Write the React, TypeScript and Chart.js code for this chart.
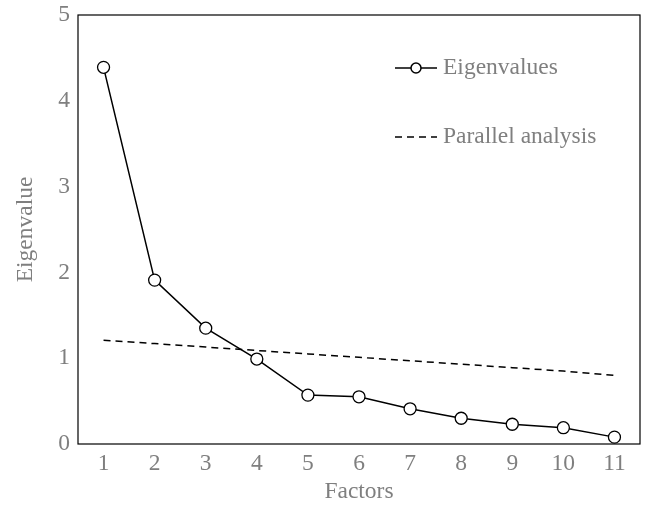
import React, { useEffect, useRef } from "react";
import { Chart, registerables } from "chart.js";

Chart.register(...registerables);

const factors = ["1", "2", "3", "4", "5", "6", "7", "8", "9", "10", "11"];
const eigenvalues = [4.39, 1.91, 1.35, 0.99, 0.57, 0.55, 0.41, 0.30, 0.23, 0.19, 0.08];
const parallel = [1.21, 1.17, 1.13, 1.09, 1.05, 1.01, 0.97, 0.93, 0.89, 0.85, 0.80];
const seriesLabels = ["Eigenvalues", "Parallel analysis"];
const yTitle = "Eigenvalue";
const xTitle = "Factors";

const FONT = "'Liberation Serif', 'DejaVu Serif', serif";
const GRAY = "#7f7f7f";
const FS = 23.5;

const frameAndLegend = {
  id: "frameAndLegend",
  afterDraw(chart: any) {
    const { ctx, chartArea } = chart;
    ctx.save();
    ctx.strokeStyle = "#000";
    ctx.lineWidth = 1.2;
    ctx.strokeRect(chartArea.left, chartArea.top, chartArea.right - chartArea.left, chartArea.bottom - chartArea.top);

    // legend
    const lx = 395;
    const ly1 = 68;
    const ly2 = 137;
    ctx.strokeStyle = "#000";
    ctx.lineWidth = 1.5;
    ctx.beginPath();
    ctx.moveTo(lx, ly1);
    ctx.lineTo(lx + 42, ly1);
    ctx.stroke();
    ctx.beginPath();
    ctx.fillStyle = "#fff";
    ctx.arc(lx + 21, ly1, 5, 0, Math.PI * 2);
    ctx.fill();
    ctx.stroke();
    ctx.setLineDash([7, 5]);
    ctx.beginPath();
    ctx.moveTo(lx, ly2);
    ctx.lineTo(lx + 42, ly2);
    ctx.stroke();
    ctx.setLineDash([]);
    ctx.fillStyle = GRAY;
    ctx.font = `${FS}px ${FONT}`;
    ctx.textBaseline = "middle";
    ctx.textAlign = "left";
    ctx.fillText(chart.data.datasets[0].label, lx + 48, ly1);
    ctx.fillText(chart.data.datasets[1].label, lx + 48, ly2);
    ctx.restore();
  },
};

export default function App() {
  const ref = useRef<HTMLCanvasElement>(null);
  useEffect(() => {
    const chart = new Chart(ref.current as HTMLCanvasElement, {
      type: "line",
      data: {
        labels: factors,
        datasets: [
          {
            label: seriesLabels[0],
            data: eigenvalues,
            borderColor: "#000",
            borderWidth: 1.5,
            backgroundColor: "#fff",
            pointRadius: 6,
            pointBorderWidth: 1.3,
            pointBackgroundColor: "#fff",
            pointBorderColor: "#000",
            tension: 0,
          },
          {
            label: seriesLabels[1],
            data: parallel,
            borderColor: "#000",
            borderWidth: 1.5,
            borderDash: [7, 5],
            pointRadius: 0,
            tension: 0,
          },
        ],
      },
      options: {
        animation: false,
        responsive: true,
        maintainAspectRatio: false,
        layout: { padding: { top: 15, right: 12, left: 0, bottom: 0 } },
        plugins: { legend: { display: false }, tooltip: { enabled: false } },
        scales: {
          x: {
            offset: true,
            grid: { display: false, drawTicks: false },
            border: { display: false },
            ticks: { color: GRAY, font: { family: FONT, size: FS }, padding: 6 },
            title: { display: true, text: xTitle, color: GRAY, font: { family: FONT, size: FS }, padding: { top: 0, bottom: 0 } },
            afterFit: (s: any) => { s.height = 62; s.paddingLeft = 0; s.paddingRight = 0; },
          },
          y: {
            min: 0,
            max: 5,
            grid: { display: false, drawTicks: false },
            border: { display: false },
            ticks: { stepSize: 1, color: GRAY, font: { family: FONT, size: FS }, padding: 8 },
            title: { display: true, text: yTitle, color: GRAY, font: { family: FONT, size: FS }, padding: { top: 12, bottom: 0 } },
            afterFit: (s: any) => { s.width = 78; s.paddingTop = 0; s.paddingBottom = 0; },
          },
        },
      },
      plugins: [frameAndLegend],
    });
    return () => chart.destroy();
  }, []);
  return (
    <div style={{ position: "fixed", left: 0, top: 0, width: 652, height: 506, background: "#fff" }}>
      <canvas ref={ref} />
    </div>
  );
}
